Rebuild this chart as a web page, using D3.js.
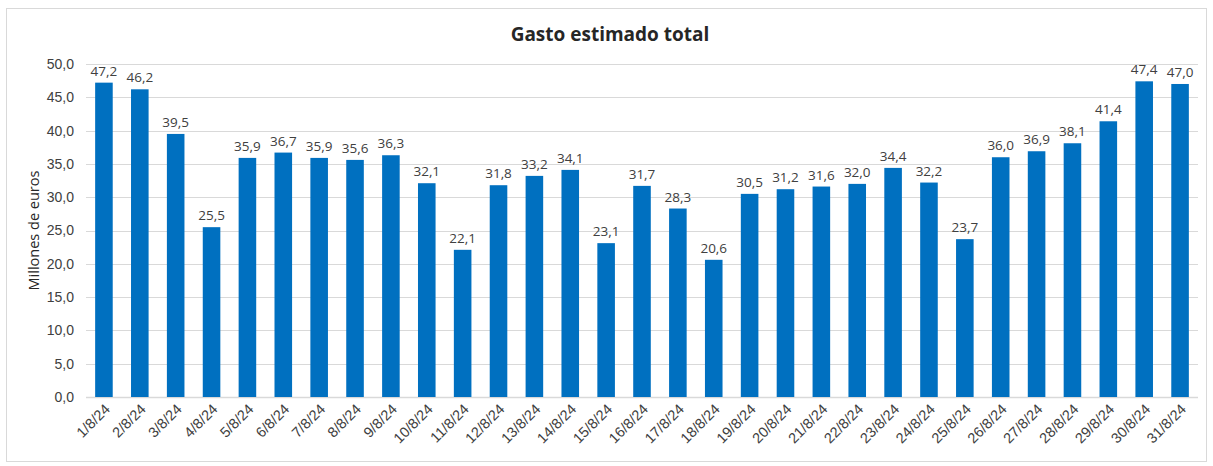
<!DOCTYPE html>
<html>
<head>
<meta charset="utf-8">
<script src="https://cdn.jsdelivr.net/npm/d3@7"></script>
<style>
  body { margin: 0; background: #fff; }
  svg { font-family: "Open Sans", "Noto Sans", sans-serif; }
</style>
</head>
<body>
<div id="chart"></div>
<script>
// data
const days = ["1/8/24","2/8/24","3/8/24","4/8/24","5/8/24","6/8/24","7/8/24","8/8/24","9/8/24","10/8/24",
  "11/8/24","12/8/24","13/8/24","14/8/24","15/8/24","16/8/24","17/8/24","18/8/24","19/8/24","20/8/24",
  "21/8/24","22/8/24","23/8/24","24/8/24","25/8/24","26/8/24","27/8/24","28/8/24","29/8/24","30/8/24","31/8/24"];
const gasto = [47.2,46.2,39.5,25.5,35.9,36.7,35.9,35.6,36.3,32.1,
  22.1,31.8,33.2,34.1,23.1,31.7,28.3,20.6,30.5,31.2,
  31.6,32.0,34.4,32.2,23.7,36.0,36.9,38.1,41.4,47.4,47.0];
const yTicks = [0,5,10,15,20,25,30,35,40,45,50];

const W = 1213, H = 466;
const margin = {top: 64, right: 15, bottom: 69, left: 86};
const width = W - margin.left - margin.right;
const height = H - margin.top - margin.bottom;

const fmt = v => v.toFixed(1).replace(".", ",");

const svg = d3.select("#chart").append("svg")
  .attr("width", W)
  .attr("height", H);

// outer frame
svg.append("rect")
  .attr("x", 6.5).attr("y", 8.5)
  .attr("width", W - 13).attr("height", H - 13)
  .attr("fill", "#fff")
  .attr("stroke", "#d9d9d9");

svg.append("text")
  .attr("x", 610).attr("y", 41)
  .attr("text-anchor", "middle")
  .attr("font-size", 19)
  .attr("font-weight", "bold")
  .attr("fill", "#262626")
  .text("Gasto estimado total");

let chart = svg.append("g")
  .attr("transform", `translate(${margin.left}, ${margin.top})`);

let x = d3.scaleBand()
  .domain(days)
  .range([0, width])
  .paddingInner(0.51)
  .paddingOuter(0.255);

let y = d3.scaleLinear()
  .domain([0, 50])
  .range([height, 0]);

// gridlines
chart.append("g")
  .selectAll("line")
  .data(yTicks)
  .enter().append("line")
  .attr("x1", 0).attr("x2", width)
  .attr("y1", d => Math.round(y(d)) + 0.5)
  .attr("y2", d => Math.round(y(d)) + 0.5)
  .attr("stroke", "#d9d9d9")
  .attr("stroke-width", d => d === 0 ? 1.5 : 1);

// y axis
let yAxis = chart.append("g")
  .attr("class", "y axis")
  .call(d3.axisLeft(y).tickValues(yTicks).tickFormat(fmt).tickSize(0).tickPadding(12));
yAxis.select(".domain").remove();
yAxis.selectAll("text")
  .attr("font-size", 14)
  .attr("fill", "#404040");

// bars
chart.selectAll("rect.bar")
  .data(gasto)
  .enter().append("rect")
  .attr("class", "bar")
  .attr("x", (d, i) => x(days[i]))
  .attr("width", x.bandwidth())
  .attr("y", d => y(d))
  .attr("height", d => height - y(d))
  .attr("fill", "#0070c0");

// value labels
chart.selectAll("text.val")
  .data(gasto)
  .enter().append("text")
  .attr("class", "val")
  .attr("x", (d, i) => x(days[i]) + x.bandwidth() / 2)
  .attr("y", d => y(d) - 7)
  .attr("text-anchor", "middle")
  .attr("font-size", 13.5)
  .attr("fill", "#404040")
  .text(fmt);

// x axis
let xAxis = chart.append("g")
  .attr("class", "x axis")
  .attr("transform", `translate(0, ${height})`)
  .call(d3.axisBottom(x).tickSize(0).tickPadding(0));
xAxis.select(".domain").remove();
xAxis.selectAll("text")
  .attr("font-size", 14.5)
  .attr("fill", "#404040")
  .attr("text-anchor", "end")
  .attr("dy", 0)
  .attr("transform", "translate(7, 13) rotate(-45)");

// y axis title
svg.append("text")
  .attr("transform", `translate(39, ${margin.top + height / 2}) rotate(-90)`)
  .attr("text-anchor", "middle")
  .attr("font-size", 14.5)
  .attr("fill", "#262626")
  .text("Millones de euros");
</script>
</body>
</html>
